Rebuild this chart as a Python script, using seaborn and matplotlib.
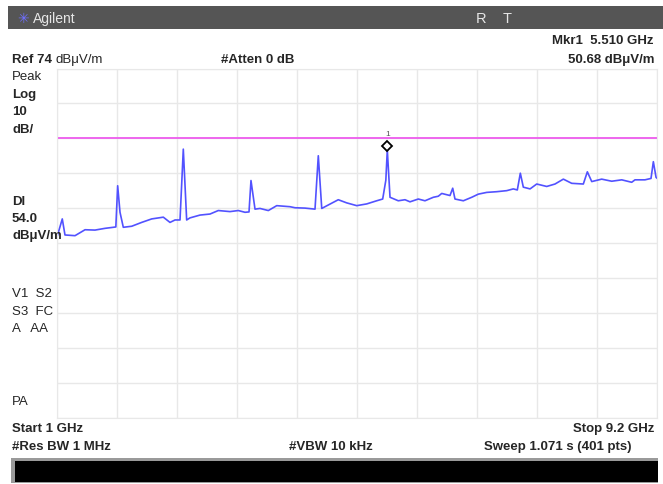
import numpy as np
import pandas as pd
import matplotlib
matplotlib.use("Agg")
import matplotlib.pyplot as plt
import seaborn as sns
from matplotlib.patches import Rectangle

# trace: frequency (GHz) and level (dBuV/m)
freq_ghz = [1.000, 1.068, 1.105, 1.242, 1.379, 1.515, 1.652, 1.765, 1.800, 1.825, 1.857, 1.902,
            2.017, 2.153, 2.290, 2.449, 2.540, 2.609, 2.677, 2.700, 2.722, 2.768, 2.814, 2.950,
            3.087, 3.200, 3.360, 3.474, 3.565, 3.620, 3.647, 3.702, 3.770, 3.884, 3.999, 4.180,
            4.249, 4.385, 4.522, 4.567, 4.614, 4.704, 4.840, 4.955, 5.092, 5.229, 5.365, 5.447,
            5.490, 5.510, 5.547, 5.660, 5.752, 5.820, 5.934, 6.025, 6.139, 6.207, 6.254, 6.367,
            6.404, 6.435, 6.549, 6.664, 6.754, 6.869, 7.005, 7.142, 7.232, 7.287, 7.328, 7.369,
            7.461, 7.552, 7.689, 7.802, 7.916, 8.030, 8.189, 8.244, 8.304, 8.440, 8.577, 8.714,
            8.850, 8.895, 9.032, 9.114, 9.146, 9.183, 9.200]
level_db = [26.0, 30.9, 26.3, 26.1, 27.8, 27.7, 28.2, 28.5, 28.6, 40.4, 32.8, 28.5,
            28.8, 29.9, 30.9, 31.4, 29.9, 30.6, 30.6, 40.9, 50.9, 30.6, 31.2, 32.0,
            32.3, 33.3, 33.0, 33.3, 32.8, 32.9, 41.9, 33.7, 33.9, 33.3, 34.7, 34.4,
            34.1, 34.0, 33.7, 49.0, 33.9, 34.9, 36.4, 35.5, 34.7, 35.2, 36.1, 36.6,
            42.0, 50.68, 37.1, 36.1, 36.4, 35.8, 36.6, 36.1, 37.1, 37.4, 38.2, 37.6,
            39.7, 36.6, 36.1, 37.1, 38.0, 38.5, 38.7, 39.0, 39.5, 39.2, 44.0, 40.0,
            39.5, 40.9, 40.2, 40.9, 42.3, 41.1, 40.9, 44.4, 41.6, 42.3, 41.7, 42.1,
            41.4, 42.1, 42.1, 42.5, 47.3, 42.8, 42.5]

start_ghz, stop_ghz = 1.0, 9.2
ref_level = 74
db_per_div = 10
display_line = 54.0
mkr_freq, mkr_level = 5.510, 50.68

df = pd.DataFrame({"freq": freq_ghz, "level": level_db})

sns.set_style("white")
plt.rcParams["font.family"] = ["Liberation Sans", "DejaVu Sans"]

W, H = 663, 485
fig = plt.figure(figsize=(W / 100, H / 100), dpi=100)

def fx(x):
    return x / W

def fy(y):
    return 1 - y / H

# top title bar
fig.patches.append(Rectangle((fx(8), fy(30)), fx(655), 23 / H, transform=fig.transFigure,
                             facecolor="#555555", edgecolor="none", zorder=0))
fig.text(fx(17), fy(19), "\u2733", color="#6f6fff", fontsize=10, va="center")
fig.text(fx(33), fy(19), "Agilent", color="#e6e6e6", fontsize=10, va="center")
fig.text(fx(476), fy(19), "R", color="#e6e6e6", fontsize=10.5, va="center")
fig.text(fx(503), fy(19), "T", color="#e6e6e6", fontsize=10.5, va="center")

# bottom black status bar
fig.patches.append(Rectangle((fx(11), fy(484)), fx(647), 25 / H, transform=fig.transFigure,
                             facecolor="#9a9a9a", edgecolor="none", zorder=0))
fig.patches.append(Rectangle((fx(15), fy(483)), fx(643), 21 / H, transform=fig.transFigure,
                             facecolor="black", edgecolor="none", zorder=0))

ax = fig.add_axes([fx(57.3), fy(418.5), fx(600), 349 / H])
sns.lineplot(data=df, x="freq", y="level", ax=ax, color="#5252ff", linewidth=1.2)
ax.axhline(display_line, color="#ee66ee", linewidth=1.4)
ax.plot([mkr_freq], [mkr_level + 1.2], marker="D", markersize=5.5, markerfacecolor="white",
        markeredgecolor="black", markeredgewidth=1.3, linestyle="none")
ax.text(mkr_freq, mkr_level + 4.6, "1", fontsize=6, color="#555555", ha="center", va="center")

ax.set_xlim(start_ghz, stop_ghz)
ax.set_ylim(ref_level - 10 * db_per_div, ref_level)
ax.set_xticks(np.linspace(start_ghz, stop_ghz, 11))
ax.set_yticks(np.arange(ref_level - 10 * db_per_div, ref_level + 1, db_per_div))
ax.grid(True, color="#e8e8e8", linewidth=1.0)
ax.tick_params(length=0, labelbottom=False, labelleft=False)
ax.set_xlabel("")
ax.set_ylabel("")
for s in ax.spines.values():
    s.set_color("#e8e8e8")

mu = "\u03bc"
bold = dict(fontweight="bold", fontsize=9.5, va="center")
norm = dict(fontsize=9.5, va="center")

fig.text(fx(654), fy(41), "Mkr1  5.510 GHz", ha="right", **bold)
fig.text(fx(12), fy(60), "Ref 74", **bold)
fig.text(fx(56), fy(60), "dB" + mu + "V/m", **norm)
fig.text(fx(221), fy(60), "#Atten 0 dB", **bold)
fig.text(fx(654), fy(60), "50.68 dB" + mu + "V/m", ha="right", **bold)

fig.text(fx(12), fy(77), "Peak", **norm)
fig.text(fx(12), fy(95), "Log", **bold)
fig.text(fx(12), fy(112), "10", **bold)
fig.text(fx(12), fy(130), "dB/", **bold)
fig.text(fx(12), fy(202), "Dl", **bold)
fig.text(fx(12), fy(219), "54.0", **bold)
fig.text(fx(12), fy(236), "dB" + mu + "V/m", **bold)
fig.text(fx(12), fy(294), "V1  S2", **norm)
fig.text(fx(12), fy(312), "S3  FC", **norm)
fig.text(fx(12), fy(329), "A   AA", **norm)
fig.text(fx(12), fy(402), "PA", **norm)

fig.text(fx(12), fy(429), "Start 1 GHz", **bold)
fig.text(fx(654), fy(429), "Stop 9.2 GHz", ha="right", **bold)
fig.text(fx(12), fy(447), "#Res BW 1 MHz", **bold)
fig.text(fx(289), fy(447), "#VBW 10 kHz", **bold)
fig.text(fx(632), fy(447), "Sweep 1.071 s (401 pts)", ha="right", **bold)

fig.savefig("out.png", dpi=100)
